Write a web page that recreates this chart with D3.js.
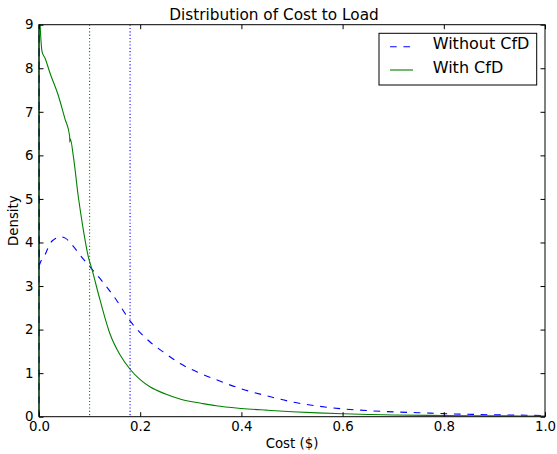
<!DOCTYPE html>
<html>
<head>
<meta charset="utf-8">
<script src="https://cdn.jsdelivr.net/npm/d3@7"></script>
<style>
  body { margin: 0; background: #fff; }
  svg { display: block; font-family: "DejaVu Sans", sans-serif; }
</style>
</head>
<body>
<div id="chart"></div>
<script>
// cost values and densities
const withoutX = [0, 0, 0.0008, 0.005, 0.012, 0.022, 0.03, 0.042, 0.052, 0.065, 0.084, 0.1, 0.12, 0.153, 0.18, 0.219, 0.25, 0.279, 0.318, 0.35, 0.4, 0.45, 0.5, 0.55, 0.6, 0.65, 0.7, 0.75, 0.8, 0.87, 0.94, 1.0];
const withoutY = [0, 9.6, 3.48, 3.6, 3.72, 3.98, 4.07, 4.13, 4.1, 3.95, 3.67, 3.45, 3.18, 2.68, 2.2, 1.72, 1.45, 1.22, 1.0, 0.85, 0.64, 0.48, 0.34, 0.245, 0.18, 0.14, 0.11, 0.092, 0.07, 0.05, 0.037, 0.028];

const withX = [0, 0, 0.003, 0.006, 0.012, 0.022, 0.038, 0.051, 0.0605, 0.061, 0.0618, 0.068, 0.0777, 0.0876, 0.0975, 0.104, 0.1206, 0.14, 0.16, 0.18, 0.2, 0.22, 0.25, 0.28, 0.32, 0.35, 0.4, 0.45, 0.5, 0.55, 0.6, 0.65, 0.7, 0.8, 0.9, 1.0];
const withY = [0, 9.6, 8.8, 8.38, 8.23, 7.88, 7.38, 6.85, 6.45, 6.3, 6.38, 5.97, 5.05, 4.29, 3.67, 3.41, 2.68, 1.91, 1.42, 1.09, 0.85, 0.68, 0.52, 0.4, 0.31, 0.25, 0.19, 0.15, 0.115, 0.088, 0.068, 0.052, 0.04, 0.027, 0.02, 0.015];

const seriesNames = ["Without CfD", "With CfD"];
const seriesColors = ["#0000ff", "#008000"];
const seriesDash = ["6.7,6.7", null];
const vlineX = [0.1, 0.18];
const vlineColors = ["#008000", "#0000ff"];

const xTicks = [0, 0.2, 0.4, 0.6, 0.8, 1.0];
const yTicks = [0, 1, 2, 3, 4, 5, 6, 7, 8, 9];

const W = 557, H = 454;
const margin = { top: 24.7, right: 12, bottom: 37.3, left: 39 };
const width = W - margin.left - margin.right;
const height = H - margin.top - margin.bottom;

const svg = d3.select("#chart")
  .append("svg")
  .attr("width", W)
  .attr("height", H);

const g = svg.append("g")
  .attr("transform", `translate(${margin.left}, ${margin.top})`);

const x = d3.scaleLinear().domain([0, 1]).range([0, width]);
const y = d3.scaleLinear().domain([0, 9]).range([height, 0]);

// clip lines to the axes box (a bit wider on the left so the spike at 0 shows)
svg.append("defs").append("clipPath")
  .attr("id", "clip")
  .append("rect")
  .attr("x", -1.5).attr("y", 0)
  .attr("width", width + 1.5).attr("height", height);

const plot = g.append("g").attr("clip-path", "url(#clip)");

// the spike at zero is straight, the rest of each density is smoothed
const spikeLine = d3.line()
  .x((d) => x(d[0]))
  .y((d) => y(d[1]));

const smoothLine = d3.line()
  .x((d) => x(d[0]))
  .y((d) => y(d[1]))
  .curve(d3.curveMonotoneX);

const series = [
  withoutX.map((v, i) => [v, withoutY[i]]),
  withX.map((v, i) => [v, withY[i]]),
];

series.forEach((pts, i) => {
  const path = spikeLine(pts.slice(0, 3)) + smoothLine(pts.slice(2)).replace(/^M/, "L");
  plot.append("path")
    .attr("d", path)
    .attr("fill", "none")
    .attr("stroke", seriesColors[i])
    .attr("stroke-width", 1.1)
    .attr("stroke-dasharray", seriesDash[i]);
});

// dotted vertical markers
plot.selectAll(".vline")
  .data(vlineX)
  .enter()
  .append("line")
  .attr("class", "vline")
  .attr("x1", (d) => x(d)).attr("x2", (d) => x(d))
  .attr("y1", 0).attr("y2", height)
  .attr("stroke", (_, i) => vlineColors[i])
  .attr("stroke-width", 1.1)
  .attr("stroke-dasharray", "1.1,2.2");

// axes, ticks inside on all four sides
const tickLen = 4.5;
const styleAxis = (sel) => {
  sel.select(".domain").remove();
  sel.selectAll(".tick line").attr("stroke", "#000").attr("stroke-width", 1);
  sel.selectAll(".tick text")
    .attr("fill", "#000")
    .style("font-family", "DejaVu Sans")
    .style("font-size", "13.33px");
};

g.append("g")
  .attr("transform", `translate(0, ${height})`)
  .call(d3.axisBottom(x).tickValues(xTicks).tickFormat(d3.format(".1f"))
    .tickSizeInner(-tickLen).tickSizeOuter(0).tickPadding(5))
  .call(styleAxis);

g.append("g")
  .call(d3.axisTop(x).tickValues(xTicks).tickFormat("")
    .tickSizeInner(-tickLen).tickSizeOuter(0))
  .call(styleAxis);

g.append("g")
  .call(d3.axisLeft(y).tickValues(yTicks).tickFormat(d3.format("d"))
    .tickSizeInner(-tickLen).tickSizeOuter(0).tickPadding(5.5))
  .call(styleAxis);

g.append("g")
  .attr("transform", `translate(${width}, 0)`)
  .call(d3.axisRight(y).tickValues(yTicks).tickFormat("")
    .tickSizeInner(-tickLen).tickSizeOuter(0))
  .call(styleAxis);

// frame
g.append("rect")
  .attr("x", 0).attr("y", 0)
  .attr("width", width).attr("height", height)
  .attr("fill", "none")
  .attr("stroke", "#000")
  .attr("stroke-width", 1);

// labels
svg.append("text")
  .attr("x", 274).attr("y", 19.5)
  .attr("text-anchor", "middle")
  .style("font-size", "15.3px")
  .text("Distribution of Cost to Load");

svg.append("text")
  .attr("x", margin.left + width / 2).attr("y", 448)
  .attr("text-anchor", "middle")
  .style("font-size", "13.33px")
  .text("Cost ($)");

svg.append("text")
  .attr("transform", `translate(18.3, ${margin.top + height / 2}) rotate(-90)`)
  .attr("text-anchor", "middle")
  .style("font-size", "13.33px")
  .text("Density");

// legend
const legend = svg.append("g").attr("transform", "translate(379, 33.3)");
legend.append("rect")
  .attr("width", 157.7).attr("height", 51.7)
  .attr("fill", "#fff")
  .attr("stroke", "#000")
  .attr("stroke-width", 1);

const rows = legend.selectAll(".row")
  .data(seriesNames)
  .enter()
  .append("g")
  .attr("class", "row")
  .attr("transform", (_, i) => `translate(0, ${13.4 + i * 23.3})`);

rows.append("line")
  .attr("x1", 11).attr("x2", 34)
  .attr("stroke", (_, i) => seriesColors[i])
  .attr("stroke-width", 1.1)
  .attr("stroke-dasharray", (_, i) => seriesDash[i]);

rows.append("text")
  .attr("x", 53.7).attr("y", 2.5)
  .style("font-size", "16px")
  .text((d) => d);
</script>
</body>
</html>
